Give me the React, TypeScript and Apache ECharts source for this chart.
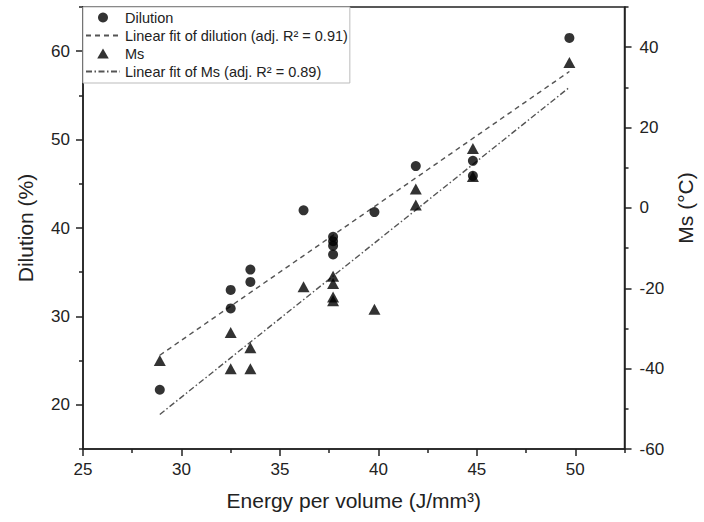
import React, { useEffect, useRef } from 'react';
import * as echarts from 'echarts';

// X ticks (Energy per volume)
const xMajorTicks = [25, 30, 35, 40, 45, 50];
const xMinorTicks = [27.5, 32.5, 37.5, 42.5, 47.5, 52.5];
// Left axis ticks (Dilution %)
const yLeftMajorTicks = [20, 30, 40, 50, 60];
const yLeftMinorTicks = [15, 25, 35, 45, 55, 65];
// Right axis ticks (Ms °C)
const yRightMajorTicks = [-60, -40, -20, 0, 20, 40];
const yRightMinorTicks = [-50, -30, -10, 10, 30, 50];

// Dilution measurements
const dilutionEnergy = [28.9, 32.5, 32.5, 33.5, 33.5, 36.2, 37.7, 37.7, 37.7, 37.7, 39.8, 41.9, 44.8, 44.8, 49.7];
const dilutionValues = [21.7, 33.0, 30.9, 35.3, 33.9, 42.0, 39.0, 38.5, 38.0, 37.0, 41.8, 47.0, 47.6, 45.9, 61.5];

// Ms measurements
const msEnergy = [28.9, 32.5, 32.5, 33.5, 33.5, 36.2, 37.7, 37.7, 37.7, 37.7, 39.8, 41.9, 41.9, 44.8, 44.8, 49.7];
const msValues = [-38.0, -31.0, -40.0, -34.8, -40.0, -19.6, -17.0, -18.8, -22.2, -23.1, -25.2, 4.7, 0.7, 14.8, 7.8, 36.2];

// Linear fit end points
const dilutionFitEnergy = [28.9, 49.7];
const dilutionFitValues = [25.6, 57.7];
const msFitEnergy = [28.9, 49.7];
const msFitValues = [-51.4, 30.0];

const names = {
  dilution: 'Dilution',
  dilutionFit: 'Linear fit of dilution (adj. R² = 0.91)',
  ms: 'Ms',
  msFit: 'Linear fit of Ms (adj. R² = 0.89)',
};

const zip = (xs: number[], ys: number[]) => xs.map((x, i) => [x, ys[i]]);

export default function App() {
  const ref = useRef<HTMLDivElement>(null);
  useEffect(() => {
    const chart = echarts.init(ref.current!, null, { renderer: 'svg' });
    const font = "'Liberation Sans', Arial, sans-serif";
    const axisColor = '#222';
    const textColor = '#222';
    const lineW = 1.5;
    const majorLen = 7;
    const minorLen = 4;
    const labelStyle = { color: textColor, fontFamily: font, fontSize: 17 };
    const nameStyle = { color: textColor, fontFamily: font, fontSize: 21 };

    chart.setOption({
      animation: false,
      backgroundColor: '#fff',
      textStyle: { fontFamily: font },
      grid: {
        left: 83, top: 7, right: 72, bottom: 73,
        show: true, borderColor: axisColor, borderWidth: lineW, backgroundColor: 'transparent',
      },
      legend: {
        orient: 'vertical',
        left: 83, top: 7,
        itemWidth: 34, itemHeight: 10, itemGap: 3,
        padding: [3, 2, 4, 2],
        borderColor: '#bbb', borderWidth: 1, backgroundColor: '#fff',
        textStyle: { color: textColor, fontFamily: font, fontSize: 14.5 },
        data: [
          { name: names.dilution, icon: 'circle' },
          { name: names.dilutionFit, itemStyle: { opacity: 0 } },
          { name: names.ms, icon: 'path://M5,0L10.5,9.5L-0.5,9.5Z' },
          { name: names.msFit, itemStyle: { opacity: 0 } },
        ],
      },
      xAxis: [
        {
          type: 'value', min: 25, max: 52.5, position: 'bottom',
          axisLine: { show: true, onZero: false, lineStyle: { color: axisColor, width: lineW } },
          axisTick: { show: true, inside: false, length: majorLen, customValues: xMajorTicks, lineStyle: { color: axisColor, width: lineW } },
          axisLabel: { ...labelStyle, margin: 12, customValues: xMajorTicks },
          splitLine: { show: false },
          name: 'Energy per volume (J/mm³)', nameLocation: 'middle', nameGap: 41,
          nameTextStyle: nameStyle,
        },
        {
          type: 'value', min: 25, max: 52.5, position: 'bottom',
          axisLine: { show: false, onZero: false },
          axisTick: { show: true, inside: false, length: minorLen, customValues: xMinorTicks, lineStyle: { color: axisColor, width: lineW } },
          axisLabel: { show: false },
          splitLine: { show: false },
        },
      ],
      yAxis: [
        {
          type: 'value', min: 15, max: 65, position: 'left',
          axisLine: { show: true, onZero: false, lineStyle: { color: axisColor, width: lineW } },
          axisTick: { show: true, inside: false, length: majorLen, customValues: yLeftMajorTicks, lineStyle: { color: axisColor, width: lineW } },
          axisLabel: { ...labelStyle, margin: 13, customValues: yLeftMajorTicks },
          splitLine: { show: false },
          name: 'Dilution (%)', nameLocation: 'middle', nameGap: 47, nameRotate: 90,
          nameTextStyle: nameStyle,
        },
        {
          type: 'value', min: 15, max: 65, position: 'left',
          axisLine: { show: false, onZero: false },
          axisTick: { show: true, inside: false, length: minorLen, customValues: yLeftMinorTicks, lineStyle: { color: axisColor, width: lineW } },
          axisLabel: { show: false },
          splitLine: { show: false },
        },
        {
          type: 'value', min: -60, max: 50, position: 'right',
          axisLine: { show: true, onZero: false, lineStyle: { color: axisColor, width: lineW } },
          axisTick: { show: true, inside: false, length: majorLen, customValues: yRightMajorTicks, lineStyle: { color: axisColor, width: lineW } },
          axisLabel: { ...labelStyle, margin: 15, customValues: yRightMajorTicks },
          splitLine: { show: false },
          name: 'Ms (°C)', nameLocation: 'middle', nameGap: 45, nameRotate: 90,
          nameTextStyle: { ...nameStyle, padding: [0, 0, 0, 40] },
        },
        {
          type: 'value', min: -60, max: 50, position: 'right',
          axisLine: { show: false, onZero: false },
          axisTick: { show: true, inside: false, length: minorLen, customValues: yRightMinorTicks, lineStyle: { color: axisColor, width: lineW } },
          axisLabel: { show: false },
          splitLine: { show: false },
        },
      ],
      series: [
        {
          name: names.dilution, type: 'scatter', xAxisIndex: 0, yAxisIndex: 0,
          symbol: 'circle', symbolSize: 10,
          itemStyle: { color: '#000' },
          data: zip(dilutionEnergy, dilutionValues), z: 5,
        },
        {
          name: names.dilutionFit, type: 'line', xAxisIndex: 0, yAxisIndex: 0,
          symbol: 'none', showSymbol: false,
          lineStyle: { color: '#555', width: 1.4, type: [5, 4] },
          itemStyle: { color: '#555' },
          data: zip(dilutionFitEnergy, dilutionFitValues), z: 3,
        },
        {
          name: names.ms, type: 'scatter', xAxisIndex: 0, yAxisIndex: 2,
          symbol: 'triangle', symbolSize: [12, 11],
          itemStyle: { color: '#000' },
          data: zip(msEnergy, msValues), z: 5,
        },
        {
          name: names.msFit, type: 'line', xAxisIndex: 0, yAxisIndex: 2,
          symbol: 'none', showSymbol: false,
          lineStyle: { color: '#555', width: 1.4, type: [6, 2.5, 1.5, 2.5] },
          itemStyle: { color: '#555' },
          data: zip(msFitEnergy, msFitValues), z: 3,
        },
      ],
    });
    return () => chart.dispose();
  }, []);
  return <div ref={ref} style={{ position: 'fixed', left: 0, top: 0, width: 704, height: 522 }} />;
}
